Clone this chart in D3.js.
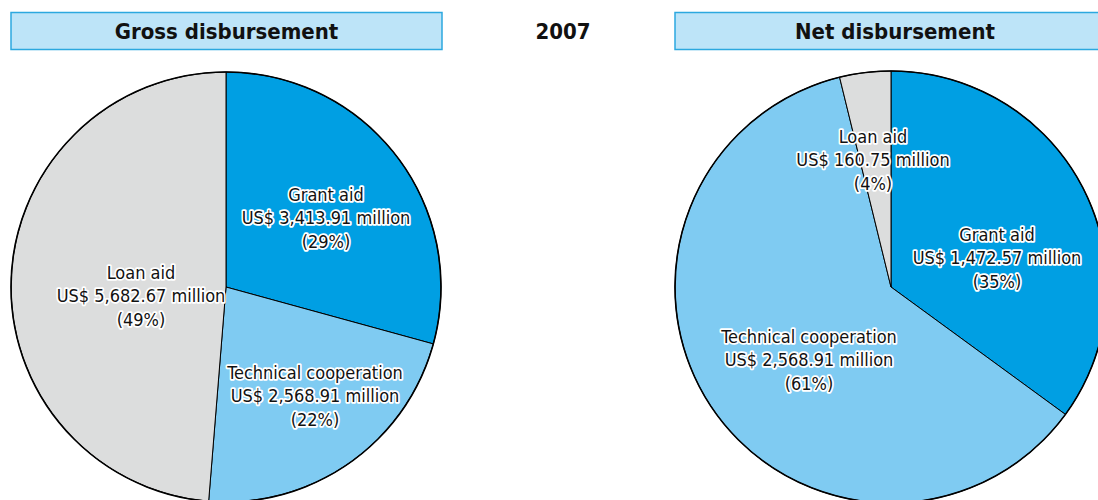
<!DOCTYPE html>
<html>
<head>
<meta charset="utf-8">
<script src="https://cdn.jsdelivr.net/npm/d3@7"></script>
<style>
	body { margin: 0; background: #fff; }
	svg text { font-family: "Liberation Sans Narrow", "DejaVu Sans Condensed", sans-serif; }
</style>
</head>
<body>
<svg id="chart" width="1098" height="500"></svg>
<script>

var year = '2007';

var categories = ['Grant aid', 'Technical cooperation', 'Loan aid'];
var colors = ['#009fe3', '#7fcbf2', '#dcdddd'];

var grossValues = [3413.91, 2568.91, 5682.67];
var grossPct = ['29%', '22%', '49%'];

var netValues = [1472.57, 2568.91, 160.75];
var netPct = ['35%', '61%', '4%'];

/**
 * Label placement relative to the pie center (per slice)
 */
var grossLabelPos = [[100, -69], [89, 109], [-85, 9]];
var netLabelPos = [[106, -29], [-82, 73], [-18, -127]];

var svg = d3.select('#chart');

/**
 * Header boxes
 */
var drawHeader = function(x, w, title) {
	svg.append('rect')
		.attr('x', x).attr('y', 12.5)
		.attr('width', w).attr('height', 37)
		.attr('fill', '#bde4f8')
		.attr('stroke', '#2ca8df')
		.attr('stroke-width', 1.5);
	svg.append('text')
		.attr('x', x + w / 2).attr('y', 39)
		.attr('text-anchor', 'middle')
		.attr('font-weight', 'bold')
		.attr('font-size', 22)
		.attr('fill', '#111')
		.text(title);
}

drawHeader(11, 431, 'Gross disbursement');
drawHeader(675, 440, 'Net disbursement');

svg.append('text')
	.attr('x', 563).attr('y', 39)
	.attr('text-anchor', 'middle')
	.attr('font-weight', 'bold')
	.attr('font-size', 22)
	.attr('fill', '#111')
	.text(year);

var fmt = d3.format(',.2f');

/**
 * Draws one pie
 */
var drawPie = function(cx, cy, r, values, pcts, labelPos) {

	var data = values.map(function(v, i) {
		return {name: categories[i], value: v, pct: pcts[i], color: colors[i], pos: labelPos[i]};
	});

	var pie = d3.pie().sort(null).value(function(d) { return d.value; });
	var arc = d3.arc().innerRadius(0).outerRadius(r);

	var g = svg.append('g').attr('transform', 'translate(' + cx + ',' + cy + ')');

	g.selectAll('path.slice')
		.data(pie(data))
		.enter().append('path')
		.attr('class', 'slice')
		.attr('d', arc)
		.attr('fill', function(d) { return d.data.color; })
		.attr('stroke', '#000')
		.attr('stroke-width', 1)
		.attr('stroke-linejoin', 'round');

	g.append('circle')
		.attr('r', r)
		.attr('fill', 'none')
		.attr('stroke', '#000')
		.attr('stroke-width', 1.6);

	data.forEach(function(d) {
		var lines = [d.name, 'US$ ' + fmt(d.value) + ' million', '(' + d.pct + ')'];
		var t = g.append('g').attr('transform', 'translate(' + d.pos[0] + ',' + d.pos[1] + ')');
		lines.forEach(function(line, i) {
			var y = (i - 1) * 23.5 + 6;
			t.append('text')
				.attr('y', y)
				.attr('text-anchor', 'middle')
				.attr('font-size', 18)
				.attr('fill', 'none')
				.attr('stroke', '#fff')
				.attr('stroke-width', 3.5)
				.attr('stroke-linejoin', 'round')
				.text(line);
			t.append('text')
				.attr('y', y)
				.attr('text-anchor', 'middle')
				.attr('font-size', 18)
				.attr('fill', '#111')
				.text(line);
		});
	});
}

drawPie(226, 287, 215, grossValues, grossPct, grossLabelPos);
drawPie(891, 287, 216, netValues, netPct, netLabelPos);

</script>
</body>
</html>
